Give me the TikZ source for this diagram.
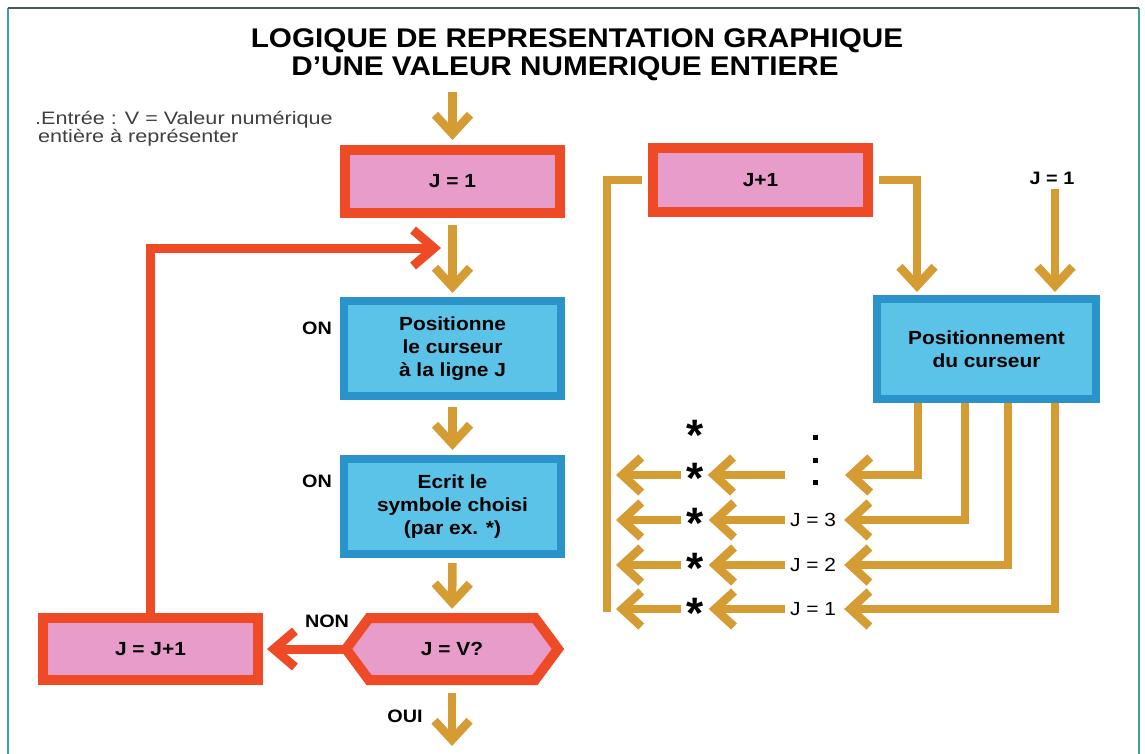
\documentclass[tikz,border=0pt]{standalone}
\usepackage{fontspec}
\setmainfont{Liberation Sans}[FakeStretch=1.1]
\newfontfamily\titlefont{Liberation Sans}[FakeStretch=1.1]
\newfontfamily\entfont{Liberation Sans}[FakeStretch=1.2]
\newfontfamily\starfont{Liberation Sans}
\usetikzlibrary{arrows.meta,calc}
\definecolor{redb}{HTML}{EE4A25}
\definecolor{pinkf}{HTML}{E79CC9}
\definecolor{blueb}{HTML}{2A93C9}
\definecolor{bluef}{HTML}{5CC3E8}
\definecolor{gold}{HTML}{D49C32}
\definecolor{framet}{HTML}{3AA39B}
\definecolor{frametop}{HTML}{4A5A5A}
\begin{document}
\begin{tikzpicture}[x=1pt,y=-1pt,
  redbox/.style={draw=redb, fill=pinkf, line width=10pt, inner sep=0pt, align=center, font=\bfseries\fontsize{19}{23}\selectfont},
  bluebox/.style={draw=blueb, fill=bluef, line width=8pt, inner sep=0pt, align=center, font=\bfseries\fontsize{19}{23}\selectfont},
  lbl/.style={font=\bfseries\fontsize{18}{22}\selectfont, inner sep=0pt},
  rowlbl/.style={font=\fontsize{19}{22}\selectfont, inner sep=0pt},
  starn/.style={font=\starfont\bfseries\fontsize{44}{44}\selectfont, inner sep=0pt, anchor=base, yshift=-17pt},
  garrow/.style={draw=gold, line width=8.5pt, -{Straight Barb[length=19pt,width=35pt]}},
  gline/.style={draw=gold, line width=8.5pt},
  rarrow/.style={draw=redb, line width=9pt, -{Straight Barb[length=21pt,width=36pt]}},
]
\fill[white] (0,0) rectangle (1145,754);
\useasboundingbox (0,0) rectangle (1145,754);
% frame
\draw[framet, line width=2pt] (8,754) -- (8,8);
\draw[framet, line width=2pt] (1139,8) -- (1139,754);
\draw[frametop, line width=1.5pt] (8,8) -- (1139,8);

% title
\node[font=\titlefont\bfseries\fontsize{27}{27}\selectfont, anchor=base, inner sep=0pt] (t1) at (577,48) {LOGIQUE DE REPRESENTATION GRAPHIQUE};
\node[font=\titlefont\bfseries\fontsize{27}{27}\selectfont, anchor=base, inner sep=0pt] (t2) at (565,76) {D’UNE VALEUR NUMERIQUE ENTIERE};

% input text
\node[font=\entfont\fontsize{18}{18}\selectfont, anchor=base west, text=black!75, inner sep=0pt] (ent1) at (35,125) {.Entrée : V = Valeur numérique};
\node[font=\entfont\fontsize{18}{18}\selectfont, anchor=base west, text=black!75, inner sep=0pt] (ent2) at (38,143) {entière à représenter};

% left flowchart
\node[redbox, minimum width=215pt, minimum height=63pt] (j1) at (452.5,181.5) {J = 1};
\node[bluebox, minimum width=217pt, minimum height=95pt] (b1) at (452.5,348.5) {Positionne\\le curseur\\à la ligne J};
\node[bluebox, minimum width=217pt, minimum height=95pt] (b2) at (452.5,506.5) {Ecrit le\\symbole choisi\\(par ex. *)};
\draw[draw=redb, fill=pinkf, line width=10pt, line join=miter] (346,649) -- (369,618) -- (535,618) -- (558,649) -- (535,680) -- (369,680) -- cycle;
\node[minimum width=218pt, minimum height=72pt, inner sep=0pt, font=\bfseries\fontsize{19}{23}\selectfont] (hex) at (452,649) {J = V?};
\node[redbox, minimum width=215pt, minimum height=62pt] (jj) at (150.5,649) {J = J+1};

\node[lbl] (on1) at (317,328) {ON};
\node[lbl] (on2) at (317,481) {ON};
\node[lbl] (non) at (327,621) {NON};
\node[lbl] (oui) at (405,716) {OUI};

\coordinate (in) at (452.5,92);
\coordinate (out) at (452,746);
\coordinate (lp) at (441,248);
\draw[garrow, shorten >=5pt] (in) -- (j1.north);
\draw[garrow, shorten <=7pt, shorten >=4pt] (j1.south) -- (b1.north);
\draw[garrow, shorten <=7pt, shorten >=5pt] (b1.south) -- (b2.north);
\draw[garrow, shorten <=5pt, shorten >=4pt] (b2.south) -- (hex.north);
\draw[garrow, shorten <=8pt] (hex.south) -- (out);
\draw[rarrow, shorten >=4pt] (hex.west) -- (jj.east);
\draw[rarrow] (jj.north) |- (lp);

% right part
\node[redbox, minimum width=215pt, minimum height=64pt] (jp) at (760.5,180) {J+1};
\node[bluebox, minimum width=219pt, minimum height=100pt] (pos) at (986.5,349) {Positionnement\\du curseur};
\node[lbl] (j1r) at (1052,178) {J = 1};
\coordinate (vlb) at (607,612);
\coordinate (pin1) at ([xshift=44pt]pos.north west);
\coordinate (pin2) at ([xshift=182pt]pos.north west);
\draw[gline] ([xshift=-6pt]jp.west) -| (vlb);
\draw[garrow, shorten >=3pt] ([xshift=6pt]jp.east) -| (pin1);
\draw[garrow, shorten <=5pt, shorten >=3pt] (pin2 |- j1r.south) -- (pin2);

\coordinate (q4) at ([xshift=45pt]pos.south west);
\coordinate (q3) at ([xshift=92pt]pos.south west);
\coordinate (q2) at ([xshift=135pt]pos.south west);
\coordinate (q1) at ([xshift=182pt]pos.south west);

\coordinate (r4) at (845,475);
\node[rowlbl] (l3) at (813,520) {J = 3};
\node[rowlbl] (l2) at (813,565) {J = 2};
\node[rowlbl] (l1) at (813,609) {J = 1};

\draw[garrow] (q4) |- (r4);
\draw[garrow, shorten >=8pt] (q3) |- (l3.east);
\draw[garrow, shorten >=8pt] (q2) |- (l2.east);
\draw[garrow, shorten >=8pt] (q1) |- (l1.east);

% dots
\fill[black] (812.5,434.5) rectangle (817.5,439.5);
\fill[black] (812.5,457.5) rectangle (817.5,462.5);
\fill[black] (812.5,479.5) rectangle (817.5,484.5);

% stars
\node[starn] (s5) at (695,433) {*};
\node[starn] (s4) at (695,476) {*};
\node[starn] (s3) at (695,521) {*};
\node[starn] (s2) at (695,566) {*};
\node[starn] (s1) at (695,611) {*};

\coordinate (m4) at (785,475);
\draw[garrow, shorten >=4pt] (m4) -- (s4.east |- m4);
\draw[garrow, shorten <=5pt, shorten >=5pt] (l3.west) -- (s3.east |- l3.west);
\draw[garrow, shorten <=5pt, shorten >=5pt] (l2.west) -- (s2.east |- l2.west);
\draw[garrow, shorten <=5pt, shorten >=5pt] (l1.west) -- (s1.east |- l1.west);

\coordinate (e4) at (616,475);
\coordinate (e3) at (616,520);
\coordinate (e2) at (616,565);
\coordinate (e1) at (616,609);
\draw[garrow, shorten <=5pt] (s4.west |- e4) -- (e4);
\draw[garrow, shorten <=5pt] (s3.west |- e3) -- (e3);
\draw[garrow, shorten <=5pt] (s2.west |- e2) -- (e2);
\draw[garrow, shorten <=5pt] (s1.west |- e1) -- (e1);
\end{tikzpicture}
\end{document}
